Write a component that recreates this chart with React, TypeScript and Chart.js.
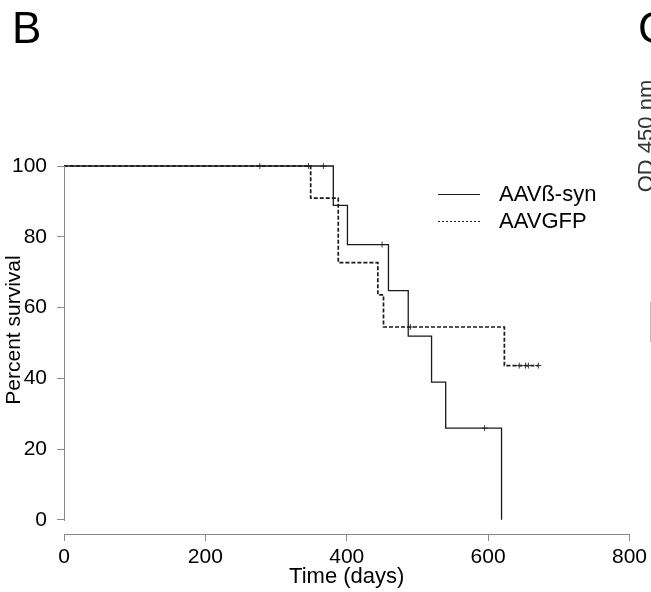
import React, { useEffect, useRef } from "react";
import { Chart, registerables } from "chart.js";

Chart.register(...registerables);

// ---- data ----
const seriesNames = ["AAVß-syn", "AAVGFP"];
const synTimes = [0, 381, 401, 459, 487, 520, 540, 619];
const synSurvival = [100, 88.9, 77.8, 64.8, 51.9, 38.9, 25.9, 0];
const synCensorTimes = [450, 595];
const synCensorSurvival = [77.8, 25.9];
const gfpTimes = [0, 349, 388, 444, 452, 623, 671];
const gfpSurvival = [100, 90.9, 72.7, 63.6, 54.5, 43.6, 43.6];
const gfpCensorTimes = [277, 346, 367, 490, 644, 653, 657, 671];
const gfpCensorSurvival = [100, 100, 100, 54.5, 43.6, 43.6, 43.6, 43.6];
const yTickValues = [0, 20, 40, 60, 80, 100];
const xTickStep = 200;
const xTitle = "Time (days)";
const yTitle = "Percent survival";
const panelLabel = "B";
const nextPanelLabel = "C";
const nextPanelAxis = "OD 450 nm";

const FONT = '"Liberation Sans", Arial, sans-serif';
const AXIS = "#8a8a8a";
const LINE = "#1a1a1a";
const FS = 21;

const pts = (xs: number[], ys: number[]) => xs.map((x, i) => ({ x, y: ys[i] }));

const decor = {
  id: "decor",
  afterDraw(chart: any) {
    const { ctx, chartArea, scales } = chart;
    const y = scales.y;
    ctx.save();
    // y axis line (0..100 only)
    ctx.strokeStyle = AXIS;
    ctx.lineWidth = 1;
    const ax = Math.round(chartArea.left) + 0.5;
    ctx.beginPath();
    ctx.moveTo(ax, Math.round(y.getPixelForValue(100)));
    ctx.lineTo(ax, Math.round(y.getPixelForValue(0)) + 1);
    ctx.stroke();

    ctx.fillStyle = "#000";
    // y title
    ctx.save();
    ctx.translate(14, 330);
    ctx.rotate(-Math.PI / 2);
    ctx.font = `${FS}px ${FONT}`;
    ctx.textAlign = "center";
    ctx.textBaseline = "middle";
    ctx.fillText(yTitle, 0, 0);
    ctx.restore();

    // panel letters
    ctx.font = `44px ${FONT}`;
    ctx.textAlign = "left";
    ctx.textBaseline = "alphabetic";
    ctx.fillText(panelLabel, 12, 43);
    ctx.fillText(nextPanelLabel, 638, 43);

    // neighbouring panel axis title fragment
    ctx.save();
    ctx.translate(653, 136);
    ctx.rotate(-Math.PI / 2);
    ctx.font = `22px ${FONT}`;
    ctx.textAlign = "center";
    ctx.fillStyle = "#333";
    ctx.fillText(nextPanelAxis, 0, 0);
    ctx.restore();
    ctx.strokeStyle = "#bbb";
    ctx.beginPath();
    ctx.moveTo(650.5, 302);
    ctx.lineTo(650.5, 342);
    ctx.stroke();

    // legend
    const lx0 = 438, lx1 = 480, tx = 499;
    const rows = [194, 221];
    ctx.lineWidth = 1.2;
    ctx.strokeStyle = LINE;
    ctx.beginPath();
    ctx.moveTo(lx0, rows[0] + 0.5);
    ctx.lineTo(lx1, rows[0] + 0.5);
    ctx.stroke();
    ctx.setLineDash([2, 2]);
    ctx.beginPath();
    ctx.moveTo(lx0, rows[1] + 0.5);
    ctx.lineTo(lx1, rows[1] + 0.5);
    ctx.stroke();
    ctx.setLineDash([]);
    ctx.font = `22px ${FONT}`;
    ctx.fillStyle = "#000";
    ctx.textBaseline = "middle";
    ctx.fillText(seriesNames[0], tx, rows[0] + 1);
    ctx.fillText(seriesNames[1], tx, rows[1] + 1);
    ctx.restore();
  },
};

export default function App() {
  const ref = useRef<HTMLCanvasElement | null>(null);
  useEffect(() => {
    if (!ref.current) return;
    const chart = new Chart(ref.current, {
      type: "line",
      data: {
        datasets: [
          {
            label: seriesNames[0],
            data: pts(synTimes, synSurvival),
            stepped: true,
            borderColor: LINE,
            borderWidth: 1.3,
            pointRadius: 0,
            fill: false,
            clip: false,
          } as any,
          {
            label: seriesNames[1],
            data: pts(gfpTimes, gfpSurvival),
            stepped: true,
            borderColor: LINE,
            borderWidth: 1.7,
            borderDash: [4, 2],
            pointRadius: 0,
            fill: false,
            clip: false,
          } as any,
          {
            label: "censor1",
            data: pts(synCensorTimes, synCensorSurvival),
            showLine: false,
            pointStyle: "cross",
            pointRadius: 3,
            pointBorderColor: "#444",
            pointBorderWidth: 1,
            clip: false,
          } as any,
          {
            label: "censor2",
            data: pts(gfpCensorTimes, gfpCensorSurvival),
            showLine: false,
            pointStyle: "cross",
            pointRadius: 3,
            pointBorderColor: "#444",
            pointBorderWidth: 1,
            clip: false,
          } as any,
        ],
      },
      options: {
        responsive: false,
        animation: false,
        layout: { padding: { top: 166, right: 20, left: 0, bottom: 0 } },
        plugins: { legend: { display: false }, tooltip: { enabled: false } },
        scales: {
          x: {
            type: "linear",
            min: 0,
            max: 800,
            ticks: { stepSize: xTickStep, color: "#000", font: { family: FONT, size: FS }, padding: 4, maxRotation: 0 },
            grid: { display: true, drawOnChartArea: false, drawTicks: true, tickLength: 7, color: AXIS },
            border: { display: true, color: AXIS },
            title: { display: true, text: xTitle, color: "#000", font: { family: FONT, size: 22, lineHeight: 1.2 }, padding: { top: 0, bottom: 2 } },
            afterFit: (s: any) => { s.height = 58; },
          },
          y: {
            type: "linear",
            min: -4,
            max: 100,
            afterBuildTicks: (s: any) => { s.ticks = yTickValues.map((v) => ({ value: v })); },
            ticks: { color: "#000", font: { family: FONT, size: FS }, padding: 10 },
            grid: { display: true, drawOnChartArea: false, drawTicks: true, tickLength: 7, color: AXIS },
            border: { display: false },
            afterFit: (s: any) => { s.width = 64; },
          },
        },
      },
      plugins: [decor],
    });
    return () => chart.destroy();
  }, []);
  return (
    <div style={{ position: "fixed", left: 0, top: 0, width: 651, height: 592, background: "#fff" }}>
      <canvas ref={ref} width={651} height={592} style={{ display: "block" }} />
    </div>
  );
}
